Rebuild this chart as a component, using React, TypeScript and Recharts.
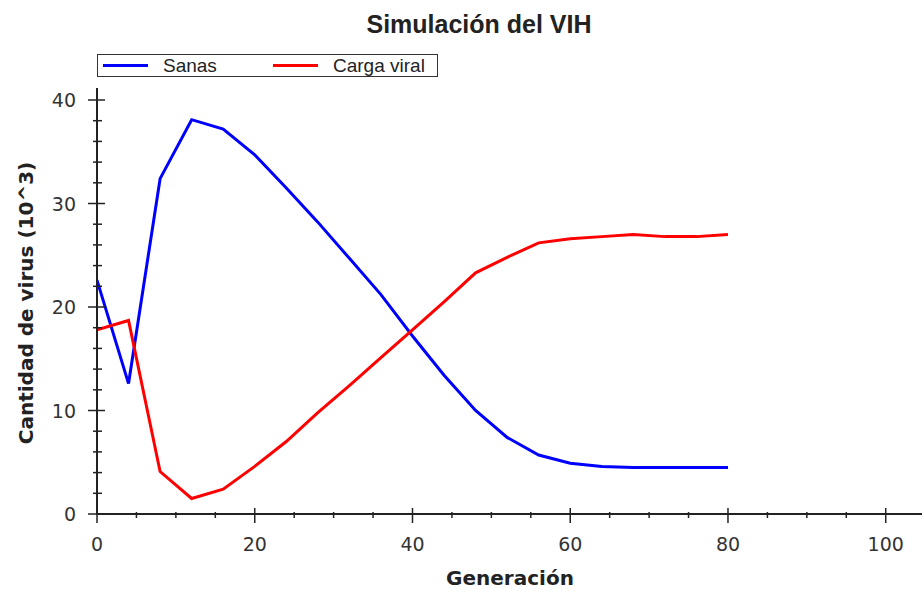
import React from 'react'
import { LineChart, Line, XAxis, YAxis, Legend } from 'recharts'

// Values (one sample every 4 generations)
const GENERACIONES = [0, 4, 8, 12, 16, 20, 24, 28, 32, 36, 40, 44, 48, 52, 56, 60, 64, 68, 72, 76, 80]
const SANAS = [22.6, 12.6, 32.4, 38.1, 37.2, 34.7, 31.5, 28.2, 24.7, 21.2, 17.2, 13.4, 10.0, 7.4, 5.7, 4.9, 4.6, 4.5, 4.5, 4.5, 4.5]
const CARGA_VIRAL = [17.8, 18.7, 4.1, 1.5, 2.4, 4.6, 7.0, 9.8, 12.4, 15.1, 17.8, 20.5, 23.3, 24.8, 26.2, 26.6, 26.8, 27.0, 26.8, 26.8, 27.0]
const SERIES_NAMES = ['Sanas', 'Carga viral']

const X_TICKS = [0, 5, 10, 15, 20, 25, 30, 35, 40, 45, 50, 55, 60, 65, 70, 75, 80, 85, 90, 95, 100]
const Y_TICKS = [0, 2, 4, 6, 8, 10, 12, 14, 16, 18, 20, 22, 24, 26, 28, 30, 32, 34, 36, 38, 40]

const rows = GENERACIONES.map((g, i) => ({ gen: g, sanas: SANAS[i], carga: CARGA_VIRAL[i] }))

const AXIS = '#222'
const TICK_FONT = '"DejaVu Sans", sans-serif'

const BottomTick = (props: any) => {
  const { x, y, payload } = props
  const major = payload.value % 20 === 0
  return (
    <g>
      <line x1={x} x2={x} y1={major ? y - 6 : y - 2} y2={major ? y + 9 : y + 4} stroke={AXIS} strokeWidth={1.5} />
      {major && (
        <text x={x} y={y + 37} textAnchor="middle" fontSize={19} fill="#333" fontFamily={TICK_FONT}>
          {payload.value}
        </text>
      )}
    </g>
  )
}

const TopTick = (props: any) => {
  const { x, y, payload } = props
  const major = payload.value % 20 === 0
  return <line x1={x} x2={x} y1={y} y2={major ? y + 8 : y + 4} stroke={AXIS} strokeWidth={1.5} />
}

const LeftTick = (props: any) => {
  const { x, y, payload } = props
  const major = payload.value % 10 === 0
  return (
    <g>
      <line x1={major ? x - 9 : x - 4} x2={major ? x + 8 : x + 5} y1={y} y2={y} stroke={AXIS} strokeWidth={1.5} />
      {major && (
        <text x={x - 21} y={y + 7} textAnchor="end" fontSize={19} fill="#333" fontFamily={TICK_FONT}>
          {payload.value}
        </text>
      )}
    </g>
  )
}

const RightTick = (props: any) => {
  const { x, y, payload } = props
  const major = payload.value % 10 === 0
  return <line x1={major ? x - 5 : x - 2} x2={x} y1={y} y2={y} stroke={AXIS} strokeWidth={1.5} />
}

const LegendBox = (props: any) => {
  const items = [...(props.payload || [])].sort(
    (a: any, b: any) => SERIES_NAMES.indexOf(a.value) - SERIES_NAMES.indexOf(b.value)
  )
  return (
    <div
      style={{
        position: 'relative',
        width: 341,
        height: 23,
        boxSizing: 'border-box',
        border: '1px solid #333',
        background: '#fff',
      }}
    >
      {items.map((p: any, i: number) => (
        <div
          key={p.value}
          style={{ position: 'absolute', left: 5 + i * 170, top: 0, height: 21, display: 'flex', alignItems: 'center' }}
        >
          <span style={{ display: 'inline-block', width: 45, height: 3, background: p.color }} />
          <span
            style={{
              marginLeft: 15,
              fontFamily: '"Liberation Sans", Arial, sans-serif',
              fontSize: 19,
              lineHeight: '21px',
              color: '#222',
              whiteSpace: 'nowrap',
            }}
          >
            {p.value}
          </span>
        </div>
      ))}
    </div>
  )
}

export default function App() {
  return (
    <div style={{ position: 'absolute', left: 0, top: 0, width: 922, height: 589, background: '#fff', overflow: 'hidden' }}>
      <div
        style={{
          position: 'absolute',
          left: 179,
          top: 12,
          width: 600,
          textAlign: 'center',
          fontFamily: '"Liberation Sans", Arial, sans-serif',
          fontWeight: 'bold',
          fontSize: 25,
          lineHeight: '25px',
          color: '#222',
        }}
      >
        Simulación del VIH
      </div>

      <LineChart width={922} height={589} data={rows} margin={{ top: 88, right: 0, bottom: 0, left: 0 }}>
        <XAxis
          xAxisId="bottom"
          type="number"
          dataKey="gen"
          domain={[0, 104.6]}
          allowDataOverflow
          ticks={X_TICKS}
          interval={0}
          height={75}
          tickSize={0}
          tickMargin={0}
          tickLine={false}
          axisLine={{ stroke: AXIS, strokeWidth: 2 }}
          tick={<BottomTick />}
        />
        <XAxis
          xAxisId="top"
          orientation="top"
          type="number"
          dataKey="gen"
          domain={[0, 104.6]}
          allowDataOverflow
          ticks={X_TICKS}
          interval={0}
          height={0}
          tickSize={0}
          tickMargin={0}
          tickLine={false}
          axisLine={{ stroke: AXIS, strokeWidth: 2 }}
          tick={<TopTick />}
        />
        <YAxis
          yAxisId="left"
          type="number"
          domain={[0, 41.16]}
          allowDataOverflow
          ticks={Y_TICKS}
          interval={0}
          width={97}
          tickSize={0}
          tickMargin={0}
          tickLine={false}
          axisLine={{ stroke: AXIS, strokeWidth: 2 }}
          tick={<LeftTick />}
        />
        <YAxis
          yAxisId="right"
          orientation="right"
          type="number"
          domain={[0, 41.16]}
          allowDataOverflow
          ticks={Y_TICKS}
          interval={0}
          width={0}
          tickSize={0}
          tickMargin={0}
          tickLine={false}
          axisLine={false}
          tick={<RightTick />}
        />
        <Legend
          layout="vertical"
          align="center"
          verticalAlign="middle"
          itemSorter={null}
          wrapperStyle={{ position: 'absolute', left: 97, top: 54, width: 341, height: 23 }}
          content={<LegendBox />}
        />
        <Line
          xAxisId="bottom"
          yAxisId="left"
          type="linear"
          dataKey="sanas"
          name={SERIES_NAMES[0]}
          stroke="#0000ff"
          strokeWidth={3}
          dot={false}
          isAnimationActive={false}
        />
        <Line
          xAxisId="bottom"
          yAxisId="left"
          type="linear"
          dataKey="carga"
          name={SERIES_NAMES[1]}
          stroke="#ff0000"
          strokeWidth={3}
          dot={false}
          isAnimationActive={false}
        />
      </LineChart>

      <div
        style={{
          position: 'absolute',
          left: 360,
          top: 568,
          width: 300,
          height: 20,
          textAlign: 'center',
          fontFamily: '"DejaVu Sans", sans-serif',
          fontWeight: 'bold',
          fontSize: 20,
          lineHeight: '20px',
          color: '#222',
        }}
      >
        Generación
      </div>
      <div
        style={{
          position: 'absolute',
          left: 26 - 150,
          top: 303 - 12,
          width: 300,
          height: 24,
          textAlign: 'center',
          transform: 'rotate(-90deg)',
          fontFamily: '"DejaVu Sans", sans-serif',
          fontWeight: 'bold',
          fontSize: 20,
          lineHeight: '24px',
          color: '#222',
          whiteSpace: 'nowrap',
        }}
      >
        Cantidad de virus (10^3)
      </div>
    </div>
  )
}
